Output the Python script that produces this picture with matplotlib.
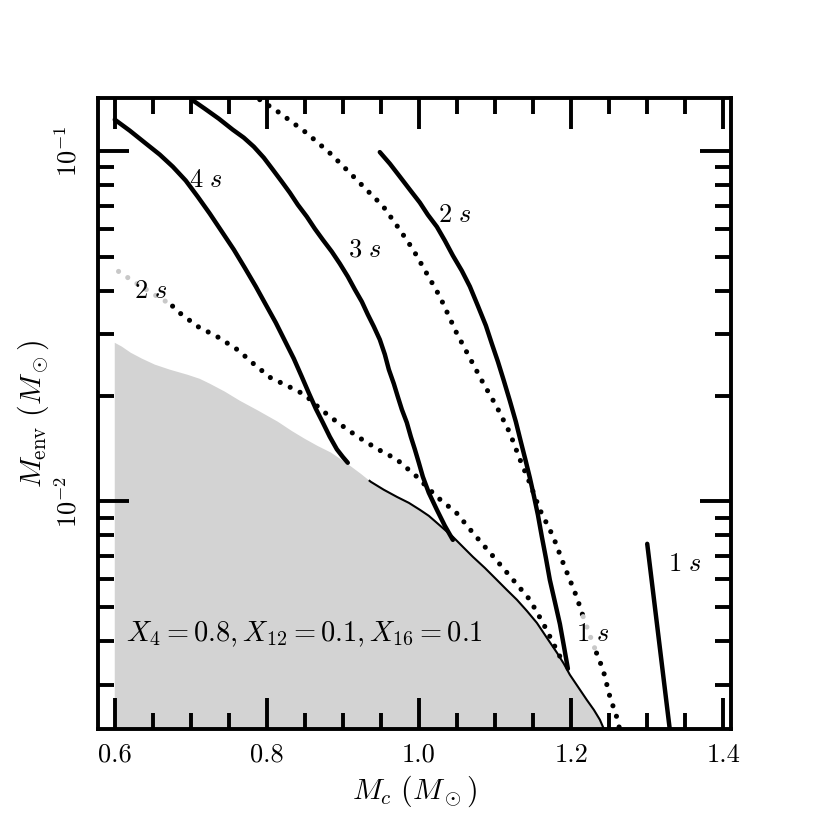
import numpy as np
import matplotlib
matplotlib.use("Agg")
import matplotlib.pyplot as plt

plt.rcParams['font.family'] = 'serif'
plt.rcParams['font.serif'] = ['cmr10', 'DejaVu Serif']
plt.rcParams['mathtext.fontset'] = 'cm'
plt.rcParams['axes.unicode_minus'] = False
plt.rcParams['axes.formatter.use_mathtext'] = True

# ---- data ----
# grey excluded region: upper boundary
bound_x = [0.600, 0.6092, 0.6210, 0.6355, 0.6526, 0.6723, 0.6960, 0.7118, 0.7249, 0.7446,
           0.7644, 0.7880, 0.8143, 0.8327, 0.8498, 0.8669, 0.8840, 0.8971, 0.9103, 0.9234,
           0.9366, 0.9537, 0.9708, 0.9866, 1.0010, 1.0128, 1.0234, 1.0339, 1.0444, 1.0576,
           1.0707, 1.0865, 1.1023, 1.1154, 1.1286, 1.1417, 1.1549, 1.1680, 1.1812, 1.1903,
           1.1982, 1.2087, 1.2206, 1.2298, 1.2377, 1.2429, 1.2469]
bound_y = [0.0284, 0.0277, 0.0266, 0.0256, 0.0246, 0.0238, 0.0230, 0.0224, 0.0217, 0.0206,
           0.0194, 0.0182, 0.0169, 0.0159, 0.0151, 0.0144, 0.0138, 0.0132, 0.0126, 0.0120,
           0.01138, 0.01080, 0.01031, 0.00991, 0.00947, 0.00910, 0.00869, 0.00830, 0.00793, 0.00742,
           0.00695, 0.00646, 0.00597, 0.00559, 0.00524, 0.00487, 0.00450, 0.00408, 0.00370, 0.00344,
           0.00320, 0.00296, 0.00271, 0.00254, 0.00238, 0.00224, 0.00216]
edge_start = 0.935   # thin black edge drawn from here on

# solid curves
s4_x = [0.600, 0.6197, 0.6394, 0.6591, 0.6763, 0.6933, 0.7091, 0.7249, 0.7407, 0.7565,
        0.7709, 0.7854, 0.7985, 0.8117, 0.8235, 0.8353, 0.8459, 0.8551, 0.8643, 0.8735,
        0.8827, 0.8919, 0.8998, 0.9063]
s4_y = [0.1232, 0.1146, 0.1059, 0.0979, 0.0904, 0.0825, 0.0742, 0.0664, 0.0590, 0.0524,
        0.0465, 0.0411, 0.0365, 0.0324, 0.0288, 0.0256, 0.0227, 0.0204, 0.0184, 0.0168,
        0.0153, 0.0141, 0.0134, 0.0129]

s3_x = [0.7012, 0.7183, 0.7367, 0.7551, 0.7696, 0.7828, 0.7959, 0.8077, 0.8196, 0.8301,
        0.8406, 0.8524, 0.8630, 0.8735, 0.8853, 0.8958, 0.9063, 0.9156, 0.9248, 0.9326,
        0.9405, 0.9484, 0.9550, 0.9603, 0.9668, 0.9721, 0.9774, 0.9839, 0.9892, 0.9944,
        0.9997, 1.0050, 1.0128, 1.0234, 1.0339, 1.0444]
s3_y = [0.1405, 0.1324, 0.1240, 0.1153, 0.1094, 0.1031, 0.0959, 0.0887, 0.0819, 0.0762,
        0.0704, 0.0651, 0.0601, 0.0559, 0.0517, 0.0478, 0.0439, 0.0403, 0.0372, 0.0342,
        0.0316, 0.0290, 0.0263, 0.0238, 0.0217, 0.0199, 0.0183, 0.0168, 0.0153, 0.0141,
        0.0129, 0.01176, 0.01059, 0.00947, 0.00852, 0.00777]

s2_x = [0.9484, 0.9616, 0.9747, 0.9879, 1.0010, 1.0115, 1.0234, 1.0339, 1.0444, 1.0562,
        1.0668, 1.0773, 1.0878, 1.0957, 1.1036, 1.1115, 1.1193, 1.1272, 1.1338, 1.1404,
        1.1456, 1.1509, 1.1562, 1.1614, 1.1667, 1.1719, 1.1785, 1.1851, 1.1903, 1.1956]
s2_y = [0.0995, 0.0922, 0.0847, 0.0777, 0.0714, 0.0659, 0.0609, 0.0556, 0.0504, 0.0456,
        0.0411, 0.0362, 0.0318, 0.0282, 0.0251, 0.0221, 0.0194, 0.0169, 0.0148, 0.0130,
        0.01169, 0.01038, 0.00916, 0.00793, 0.00690, 0.00597, 0.00517, 0.00447, 0.00387, 0.00333]

s1_x = [1.2999, 1.3297]
s1_y = [0.00757, 0.00222]

# dotted curves
d1_x = [0.7906, 0.8169, 0.852, 0.8827, 0.909, 0.9309, 0.9527, 0.9747, 0.9922, 1.0098,
        1.0273, 1.0493, 1.0667, 1.0842, 1.1018, 1.1193, 1.1325, 1.1456, 1.1588, 1.1763,
        1.1894, 1.207, 1.2157, 1.2245, 1.2333, 1.242, 1.2508, 1.2596, 1.2640]
d1_y = [0.1405, 0.1287, 0.1129, 0.0989, 0.0868, 0.0777, 0.0697, 0.0597, 0.0524, 0.0449,
        0.0385, 0.0303, 0.0257, 0.0218, 0.0187, 0.0157, 0.0132, 0.01128, 0.00947, 0.00794,
        0.00667, 0.00535, 0.00469, 0.00415, 0.00369, 0.0033, 0.00277, 0.00243, 0.00222]
d1_grey = (1.2157, 1.2333)

d2_x = [0.605, 0.6283, 0.6510, 0.674, 0.6828, 0.7091, 0.7354, 0.7617, 0.7837, 0.8055,
        0.8231, 0.8494, 0.8712, 0.8932, 0.9195, 0.9458, 0.9704, 0.9967, 1.023, 1.0493,
        1.0711, 1.0974, 1.1237, 1.1456, 1.1631, 1.1763, 1.1851]
d2_y = [0.0454, 0.0420, 0.0391, 0.0365, 0.0349, 0.0316, 0.0295, 0.0271, 0.0246, 0.0225,
        0.0216, 0.0202, 0.0183, 0.0168, 0.0153, 0.0141, 0.0132, 0.01179, 0.01033, 0.00927,
        0.00812, 0.00697, 0.00597, 0.00524, 0.00449, 0.00394, 0.00361]
d2_grey = (0.605, 0.676)

# curve labels
lab_text = [r'$4\ s$', r'$3\ s$', r'$2\ s$', r'$2\ s$', r'$1\ s$', r'$1\ s$']
lab_x = [0.7196, 0.9287, 1.047, 0.6477, 1.2289, 1.3494]
lab_y = [0.0830, 0.0524, 0.0659, 0.0398, 0.00418, 0.00662]

comp_text = r'$X_4=0.8, X_{12}=0.1, X_{16}=0.1$'

xlim = (0.578, 1.41)
ylim = (2.24e-3, 0.142)

# ---- figure ----
fig = plt.figure(figsize=(8.3, 8.3), dpi=100)
ax = fig.add_axes([0.1181, 0.1217, 0.7626, 0.7602])

GREY = '#d3d3d3'
LGREY = '#c8c8c8'
lw = 3.2
dlw = 3.7

bx = np.array(bound_x); by = np.array(bound_y)
ax.fill_between(bx, 1e-4, by, color=GREY, lw=0, zorder=1)
m = bx >= edge_start
ax.plot(np.r_[edge_start, bx[m]],
        10 ** np.r_[np.interp(edge_start, bx, np.log10(by)), np.log10(by[m])],
        color='k', lw=1.5, zorder=2)

for xs, ys in [(s4_x, s4_y), (s3_x, s3_y), (s2_x, s2_y), (s1_x, s1_y)]:
    ax.plot(xs, ys, color='k', lw=lw, solid_capstyle='round',
            solid_joinstyle='round', zorder=3)

dot = (0, (0.001, 2.15))


def piece(xs, ly, a, b):
    mm = (xs > a) & (xs < b)
    return np.r_[a, xs[mm], b], 10 ** np.r_[np.interp(a, xs, ly), ly[mm], np.interp(b, xs, ly)]


xs1 = np.array(d1_x); ly1 = np.log10(d1_y)
for (a, b), col in [((xs1[0], d1_grey[0]), 'k'), (d1_grey, LGREY), ((d1_grey[1], xs1[-1]), 'k')]:
    sx, sy = piece(xs1, ly1, a, b)
    ax.plot(sx, sy, color=col, lw=dlw, linestyle=dot, dash_capstyle='round', zorder=3)

xs2 = np.array(d2_x); ly2 = np.log10(d2_y)
for (a, b), col in [(d2_grey, LGREY), ((d2_grey[1], xs2[-1]), 'k')]:
    sx, sy = piece(xs2, ly2, a, b)
    ax.plot(sx, sy, color=col, lw=dlw, linestyle=dot, dash_capstyle='round', zorder=3)

for t, x, y in zip(lab_text, lab_x, lab_y):
    ax.text(x, y, t, fontsize=19, ha='center', va='center', zorder=4)

ax.text(0.6145, 0.00418, comp_text, fontsize=20.5, ha='left', va='center', zorder=4)

ax.set_yscale('log')
ax.set_xlim(*xlim)
ax.set_ylim(*ylim)

ax.set_xticks([0.6, 0.8, 1.0, 1.2, 1.4])
ax.set_xticklabels(['0.6', '0.8', '1.0', '1.2', '1.4'])
ax.set_xticks(np.arange(0.6, 1.41, 0.05), minor=True)

ax.tick_params(which='both', direction='in', top=True, right=True, width=2.8,
               labelsize=19, pad=10)
ax.tick_params(which='major', length=22)
ax.tick_params(which='minor', length=11.5)
ax.tick_params(axis='y', which='major', pad=12)
ax.yaxis.set_minor_formatter(matplotlib.ticker.NullFormatter())
for lab in ax.get_yticklabels():
    lab.set_rotation(90)
    lab.set_va('center')
for sp in ax.spines.values():
    sp.set_linewidth(2.8)

ax.set_xlabel(r'$M_c\ (M_\odot)$', fontsize=21.5, va='center')
ax.xaxis.set_label_coords(0.5, -0.098)
ax.set_ylabel(r'$M_{\rm env}\ (M_\odot)$', fontsize=21.5, va='center')
ax.yaxis.set_label_coords(-0.102, 0.5)

fig.savefig('out.png', dpi=100)
